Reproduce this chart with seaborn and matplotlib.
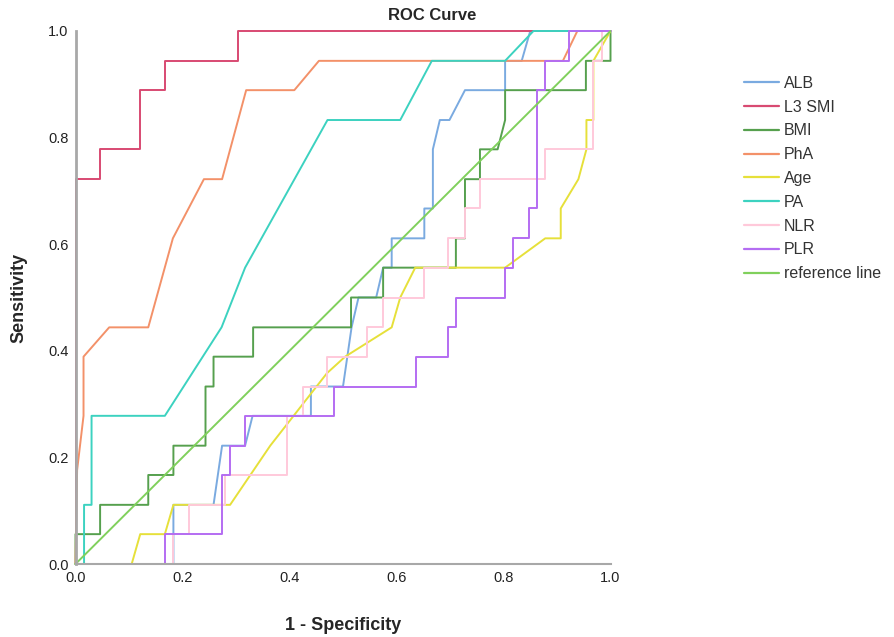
import pandas as pd
import matplotlib.pyplot as plt
import seaborn as sns

# ROC coordinates: (1 - specificity, sensitivity)
labels = ['ALB', 'L3 SMI', 'BMI', 'PhA', 'Age', 'PA', 'NLR', 'PLR', 'reference line']

alb_x = [0, 0.183, 0.183, 0.258, 0.274, 0.317, 0.331, 0.44, 0.44, 0.50, 0.516, 0.529, 0.562, 0.575,
         0.591, 0.591, 0.652, 0.652, 0.668, 0.668, 0.681, 0.699, 0.728, 0.803, 0.803, 0.834, 0.850, 1]
alb_y = [0, 0, 0.111, 0.111, 0.222, 0.222, 0.278, 0.278, 0.333, 0.333, 0.444, 0.5, 0.5, 0.556,
         0.556, 0.611, 0.611, 0.667, 0.667, 0.778, 0.833, 0.833, 0.889, 0.889, 0.944, 0.944, 1, 1]

smi_x = [0, 0, 0.046, 0.046, 0.121, 0.121, 0.167, 0.167, 0.303, 0.303, 1]
smi_y = [0, 0.722, 0.722, 0.778, 0.778, 0.889, 0.889, 0.944, 0.944, 1, 1]

bmi_x = [0, 0, 0.046, 0.046, 0.136, 0.136, 0.183, 0.183, 0.243, 0.243, 0.258, 0.258, 0.332, 0.332,
         0.515, 0.515, 0.575, 0.575, 0.711, 0.711, 0.728, 0.728, 0.756, 0.756, 0.789, 0.803, 0.803,
         0.954, 0.954, 1, 1]
bmi_y = [0, 0.056, 0.056, 0.111, 0.111, 0.167, 0.167, 0.222, 0.222, 0.333, 0.333, 0.389, 0.389, 0.444,
         0.444, 0.5, 0.5, 0.556, 0.556, 0.611, 0.611, 0.722, 0.722, 0.778, 0.778, 0.833, 0.889,
         0.889, 0.944, 0.944, 1]

pha_x = [0, 0.003, 0.015, 0.015, 0.063, 0.136, 0.182, 0.24, 0.274, 0.319, 0.409, 0.455, 0.911, 0.938, 1]
pha_y = [0, 0.176, 0.278, 0.389, 0.444, 0.444, 0.611, 0.722, 0.722, 0.889, 0.889, 0.944, 0.944, 1, 1]

age_x = [0, 0.105, 0.121, 0.167, 0.183, 0.289, 0.364, 0.47, 0.504, 0.591, 0.607, 0.635, 0.803,
         0.878, 0.907, 0.907, 0.94, 0.955, 0.955, 0.968, 0.968, 1]
age_y = [0, 0, 0.056, 0.056, 0.111, 0.111, 0.222, 0.358, 0.389, 0.444, 0.5, 0.556, 0.556,
         0.611, 0.611, 0.667, 0.722, 0.778, 0.833, 0.833, 0.944, 1]

pa_x = [0, 0.016, 0.016, 0.030, 0.030, 0.167, 0.273, 0.317, 0.471, 0.607, 0.666, 0.803, 0.856, 1]
pa_y = [0, 0, 0.111, 0.111, 0.278, 0.278, 0.444, 0.556, 0.833, 0.833, 0.944, 0.944, 1, 1]

nlr_x = [0, 0.183, 0.183, 0.213, 0.213, 0.279, 0.279, 0.395, 0.395, 0.425, 0.425, 0.47, 0.47, 0.545,
         0.545, 0.575, 0.575, 0.651, 0.651, 0.697, 0.697, 0.728, 0.728, 0.756, 0.756, 0.878, 0.878,
         0.968, 0.968, 0.984, 0.984, 1]
nlr_y = [0, 0, 0.056, 0.056, 0.111, 0.111, 0.167, 0.167, 0.278, 0.278, 0.333, 0.333, 0.389, 0.389,
         0.444, 0.444, 0.5, 0.5, 0.556, 0.556, 0.611, 0.611, 0.667, 0.667, 0.722, 0.722, 0.778,
         0.778, 0.944, 0.944, 1, 1]

plr_x = [0, 0.167, 0.167, 0.273, 0.273, 0.289, 0.289, 0.317, 0.317, 0.484, 0.484, 0.636, 0.636, 0.697,
         0.697, 0.711, 0.711, 0.803, 0.803, 0.818, 0.818, 0.848, 0.848, 0.863, 0.863, 0.878, 0.878,
         0.923, 0.923, 1]
plr_y = [0, 0, 0.056, 0.056, 0.167, 0.167, 0.222, 0.222, 0.278, 0.278, 0.333, 0.333, 0.389, 0.389,
         0.444, 0.444, 0.5, 0.5, 0.556, 0.556, 0.611, 0.611, 0.667, 0.667, 0.889, 0.889, 0.944,
         0.944, 1, 1]

ref_x = [0, 1]
ref_y = [0, 1]

colors = ['#7aaae0', '#d84a72', '#56a04e', '#f39169', '#e6e03a', '#3cd2c0', '#ffc9da', '#b46df2', '#80d05c']

series = [(alb_x, alb_y), (smi_x, smi_y), (bmi_x, bmi_y), (pha_x, pha_y), (age_x, age_y),
          (pa_x, pa_y), (nlr_x, nlr_y), (plr_x, plr_y), (ref_x, ref_y)]

rows = []
for lab, (xs, ys) in zip(labels, series):
    for i, (a, b) in enumerate(zip(xs, ys)):
        rows.append({'fpr': a, 'tpr': b, 'var': lab, 'order': i})
df = pd.DataFrame(rows)

sns.set_style('white')
plt.rcParams['font.family'] = ['Liberation Sans', 'DejaVu Sans']

fig = plt.figure(figsize=(8.94, 6.37), dpi=100)
ax = fig.add_axes([75.5 / 894, 1 - 564 / 637, 535 / 894, 533 / 637])

sns.lineplot(data=df, x='fpr', y='tpr', hue='var', hue_order=labels, palette=colors,
             sort=False, estimator=None, units='var', linewidth=1.4, ax=ax, legend=False)
for ln in ax.lines:
    ln.set_clip_on(False)

ax.set_xlim(0, 1)
ax.set_ylim(0, 1)
ax.set_xticks([0, 0.2, 0.4, 0.6, 0.8, 1.0])
ax.set_yticks([0, 0.2, 0.4, 0.6, 0.8, 1.0])
ax.tick_params(length=0, labelsize=10.5, colors='#222222', pad=5)
for s in ['top', 'right']:
    ax.spines[s].set_visible(False)
ax.spines['left'].set_color('#a8a8a8')
ax.spines['left'].set_linewidth(2)
ax.spines['bottom'].set_color('#a8a8a8')
ax.spines['bottom'].set_linewidth(1.5)
ax.set_xlabel('1 - Specificity', fontsize=13, fontweight='bold', labelpad=23)
ax.set_ylabel('Sensitivity', fontsize=13, fontweight='bold', labelpad=15)
fig.text(432 / 894, 1 - 16 / 637, 'ROC Curve', ha='center', va='center', fontsize=12, fontweight='bold')

handles = [plt.Line2D([], [], color=c, linewidth=1.6) for c in colors]
fig.legend(handles, labels, loc='center left', bbox_to_anchor=(744 / 894, 1 - 178.5 / 637),
           bbox_transform=fig.transFigure, frameon=False, fontsize=11.5, borderpad=0,
           borderaxespad=0, handlelength=2.2, handletextpad=0.3, labelspacing=0.55,
           labelcolor='#333333')

fig.savefig('out.png', dpi=100)
